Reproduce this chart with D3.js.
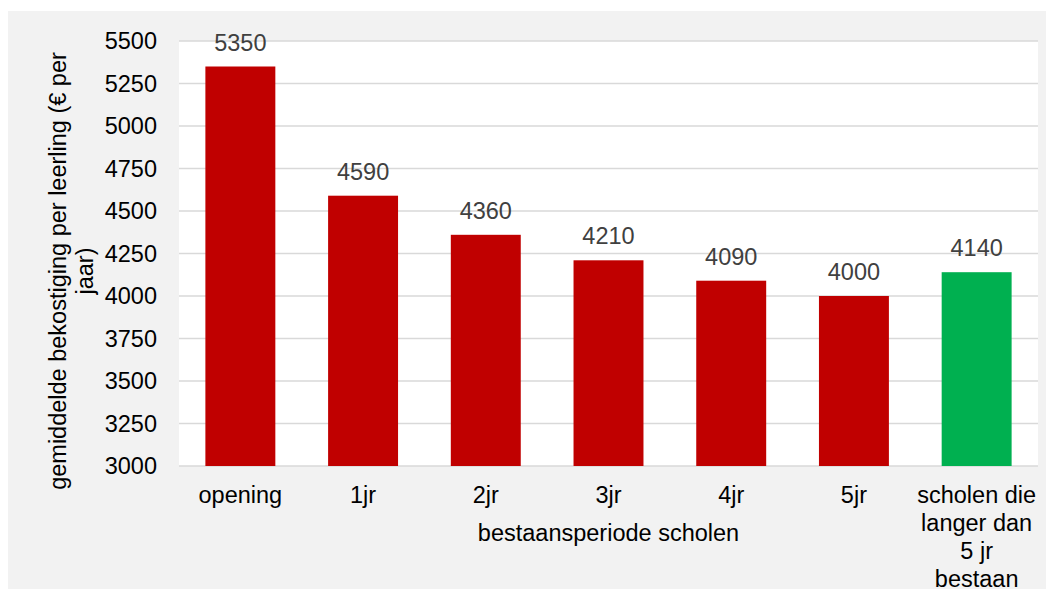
<!DOCTYPE html>
<html>
<head>
<meta charset="utf-8">
<script src="https://cdn.jsdelivr.net/npm/d3@7"></script>
<style>
  body { margin: 0; background: #fff; }
  text { font-family: "Liberation Sans", Arial, sans-serif; }
</style>
</head>
<body>
<svg id="chart" width="1051" height="589"></svg>
<script>
// values
var categories = ["opening", "1jr", "2jr", "3jr", "4jr", "5jr", "scholen die langer dan 5 jr bestaan"];
var catLines = [["opening"], ["1jr"], ["2jr"], ["3jr"], ["4jr"], ["5jr"], ["scholen die", "langer dan", "5 jr", "bestaan"]];
var values = [5350, 4590, 4360, 4210, 4090, 4000, 4140];
var yTicks = [3000, 3250, 3500, 3750, 4000, 4250, 4500, 4750, 5000, 5250, 5500];

var fs = 23.5;
var svg = d3.select("#chart");

var margin = {left: 179, right: 1038, top: 41, bottom: 466};

var scales = {
  "x": d3.scaleBand()
    .domain(categories)
    .range([margin.left, margin.right])
    .paddingInner(0.43)
    .paddingOuter(0.215),
  "y": d3.scaleLinear()
    .domain([3000, 5500])
    .range([margin.bottom, margin.top]),
  "color": (d, i) => i === 6 ? "#00b050" : "#c00000"
};

// grey outer panel
svg.append("rect")
  .attr("x", 8).attr("y", 11)
  .attr("width", 1038).attr("height", 578)
  .attr("fill", "#f2f2f2");

// white plot area
svg.append("rect")
  .attr("x", margin.left).attr("y", margin.top)
  .attr("width", margin.right - margin.left)
  .attr("height", margin.bottom - margin.top)
  .attr("fill", "#fff");

// gridlines
svg.append("g")
  .selectAll("line")
  .data(yTicks).enter()
  .append("line")
  .attr("x1", margin.left).attr("x2", margin.right)
  .attr("y1", (d) => scales.y(d)).attr("y2", (d) => scales.y(d))
  .attr("stroke", "#d9d9d9")
  .attr("stroke-width", 1.5);

// y axis
var yAxis = svg.append("g")
  .attr("transform", "translate(" + margin.left + ",0)")
  .call(d3.axisLeft(scales.y).tickValues(yTicks).tickFormat(d3.format("d")).tickSize(0).tickPadding(22));
yAxis.select(".domain").remove();
yAxis.selectAll("text")
  .attr("font-size", fs)
  .attr("font-family", "Liberation Sans, Arial, sans-serif")
  .attr("fill", "#000");

// bars
svg.append("g")
  .selectAll("rect")
  .data(values).enter()
  .append("rect")
  .attr("x", (d, i) => scales.x(categories[i]))
  .attr("y", (d) => scales.y(d))
  .attr("width", scales.x.bandwidth())
  .attr("height", (d) => scales.y(3000) - scales.y(d))
  .attr("fill", scales.color);

// value labels
svg.append("g")
  .selectAll("text")
  .data(values).enter()
  .append("text")
  .attr("x", (d, i) => scales.x(categories[i]) + scales.x.bandwidth() / 2)
  .attr("y", (d) => scales.y(d) - 16)
  .attr("text-anchor", "middle")
  .attr("font-size", fs)
  .attr("fill", "#404040")
  .text((d) => d);

// category labels
var cat = svg.append("g")
  .selectAll("text")
  .data(catLines).enter()
  .append("text")
  .attr("text-anchor", "middle")
  .attr("font-size", fs)
  .attr("fill", "#000")
  .attr("transform", (d, i) => "translate(" + (scales.x(categories[i]) + scales.x.bandwidth() / 2) + ",503)");
cat.selectAll("tspan")
  .data((d) => d).enter()
  .append("tspan")
  .attr("x", 0)
  .attr("dy", (d, j) => j === 0 ? 0 : 28)
  .text((d) => d);

// x axis title
svg.append("text")
  .attr("x", (margin.left + margin.right) / 2)
  .attr("y", 541)
  .attr("text-anchor", "middle")
  .attr("font-size", fs)
  .attr("fill", "#000")
  .text("bestaansperiode scholen");

// y axis title (two lines)
var yt = svg.append("text")
  .attr("transform", "translate(66,271) rotate(-90)")
  .attr("text-anchor", "middle")
  .attr("font-size", fs)
  .attr("fill", "#000");
yt.append("tspan").attr("x", 0).attr("dy", 0).text("gemiddelde bekostiging per leerling (€ per");
yt.append("tspan").attr("x", 0).attr("dy", 27).text("jaar)");
</script>
</body>
</html>
